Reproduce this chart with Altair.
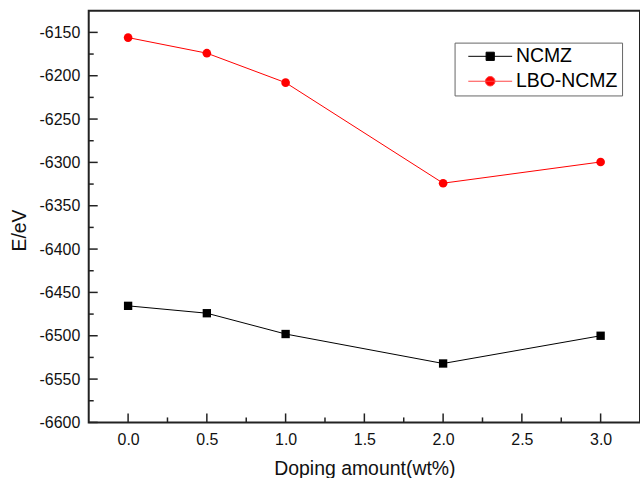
import altair as alt
import pandas as pd

# ---- data ----
doping = [0.0, 0.5, 1.0, 2.0, 3.0]
ncmz = [-6465.5, -6474, -6498, -6532, -6500]
lbo_ncmz = [-6156, -6174, -6208, -6324, -6299.5]
series_names = ["NCMZ", "LBO-NCMZ"]
series_colors = ["#000000", "#ff0000"]
x_major = [0.0, 0.5, 1.0, 1.5, 2.0, 2.5, 3.0]
x_minor = [0.25, 0.75, 1.25, 1.75, 2.25, 2.75]
y_major = [-6600, -6550, -6500, -6450, -6400, -6350, -6300, -6250, -6200, -6150]
y_minor = [-6575, -6525, -6475, -6425, -6375, -6325, -6275, -6225, -6175]

FONT = "Liberation Sans"
W, H = 553, 413

rows = []
for name, vals in zip(series_names, [ncmz, lbo_ncmz]):
    for d, v in zip(doping, vals):
        rows.append({"doping": d, "energy": v, "series": name})
df = pd.DataFrame(rows)

xscale = alt.Scale(domain=[-0.25, 3.25], nice=False, zero=False)
yscale = alt.Scale(domain=[-6600, -6125], nice=False, zero=False)
cscale = alt.Scale(domain=series_names, range=series_colors)

xaxis = alt.Axis(values=x_major, format=".1f", ticks=False, domain=False, grid=False,
                 labelFont=FONT, labelFontSize=16, labelColor="#111", labelPadding=9,
                 title="Doping amount(wt%)", titleFont=FONT, titleFontSize=19.5,
                 titleFontWeight="normal", titleColor="#111", titlePadding=12)
yaxis = alt.Axis(values=y_major, labelExpr="'' + datum.value", ticks=False, domain=False,
                 grid=False, labelFont=FONT, labelFontSize=16, labelColor="#111",
                 labelPadding=9, title="E/eV", titleFont=FONT, titleFontSize=19.5,
                 titleFontWeight="normal", titleColor="#111", titlePadding=9, titleY=220)

base = alt.Chart(df)

lines = base.mark_line(strokeWidth=1).encode(
    x=alt.X("doping:Q", scale=xscale, axis=xaxis),
    y=alt.Y("energy:Q", scale=yscale, axis=yaxis),
    color=alt.Color("series:N", scale=cscale, legend=None),
    detail="series:N",
)

sq = base.transform_filter(alt.datum.series == "NCMZ").mark_point(
    filled=True, shape="square", size=70, opacity=1).encode(
    x=alt.X("doping:Q", scale=xscale),
    y=alt.Y("energy:Q", scale=yscale),
    color=alt.Color("series:N", scale=cscale, legend=None),
)
ci = base.transform_filter(alt.datum.series == "LBO-NCMZ").mark_point(
    filled=True, shape="circle", size=75, opacity=1).encode(
    x=alt.X("doping:Q", scale=xscale),
    y=alt.Y("energy:Q", scale=yscale),
    color=alt.Color("series:N", scale=cscale, legend=None),
)

# legend-only layer (no visible marks)
sq_path = "M-4,0H4M-0.75,-0.75H0.75V0.75H-0.75Z"
ci_path = "M-4,0H4M-0.87,0A0.87,0.87,0,1,0,0.87,0A0.87,0.87,0,1,0,-0.87,0Z"
leg = alt.Legend(title=None, orient="none", legendX=367, legendY=32,
                 labelFont=FONT, labelFontSize=19.5, labelColor="#000",
                 strokeColor="#666", fillColor="white", padding=4, rowPadding=4,
                 symbolSize=121, symbolStrokeWidth=1, symbolOffset=22, labelOffset=16)
legend_layer = base.transform_filter("false").mark_point(size=121, strokeWidth=1, opacity=1).encode(
    fill=alt.Fill("series:N", scale=alt.Scale(domain=series_names, range=series_colors), legend=leg),
    stroke=alt.Stroke("series:N", scale=alt.Scale(domain=series_names, range=["#000000", "#ff4444"]), legend=leg),
    shape=alt.Shape("series:N", scale=alt.Scale(domain=series_names, range=[sq_path, ci_path]), legend=leg),
)

# tick marks (inward)
ymaj = alt.Chart(pd.DataFrame({"v": y_major})).mark_rule(color="#222", strokeWidth=1.5).encode(
    y=alt.Y("v:Q", scale=yscale), x=alt.value(0), x2=alt.value(9))
ymin = alt.Chart(pd.DataFrame({"v": y_minor})).mark_rule(color="#222", strokeWidth=1.5).encode(
    y=alt.Y("v:Q", scale=yscale), x=alt.value(0), x2=alt.value(5))
xmaj = alt.Chart(pd.DataFrame({"v": x_major})).mark_rule(color="#222", strokeWidth=1.5).encode(
    x=alt.X("v:Q", scale=xscale), y=alt.value(H), y2=alt.value(H - 9))
xmin = alt.Chart(pd.DataFrame({"v": x_minor})).mark_rule(color="#222", strokeWidth=1.5).encode(
    x=alt.X("v:Q", scale=xscale), y=alt.value(H), y2=alt.value(H - 5))

chart = alt.layer(lines, sq, ci, ymaj, ymin, xmaj, xmin, legend_layer).resolve_scale(
    fill="independent", stroke="independent", shape="independent"
).properties(
    width=W, height=H,
    autosize=alt.AutoSizeParams(type="none"),
    padding={"left": 89, "top": 10, "right": 0, "bottom": 55},
    background="white",
).configure_view(stroke="#222", strokeWidth=2).configure_legend(cornerRadius=0)

chart.save("out.html", embed_options={"renderer": "svg", "actions": False})
